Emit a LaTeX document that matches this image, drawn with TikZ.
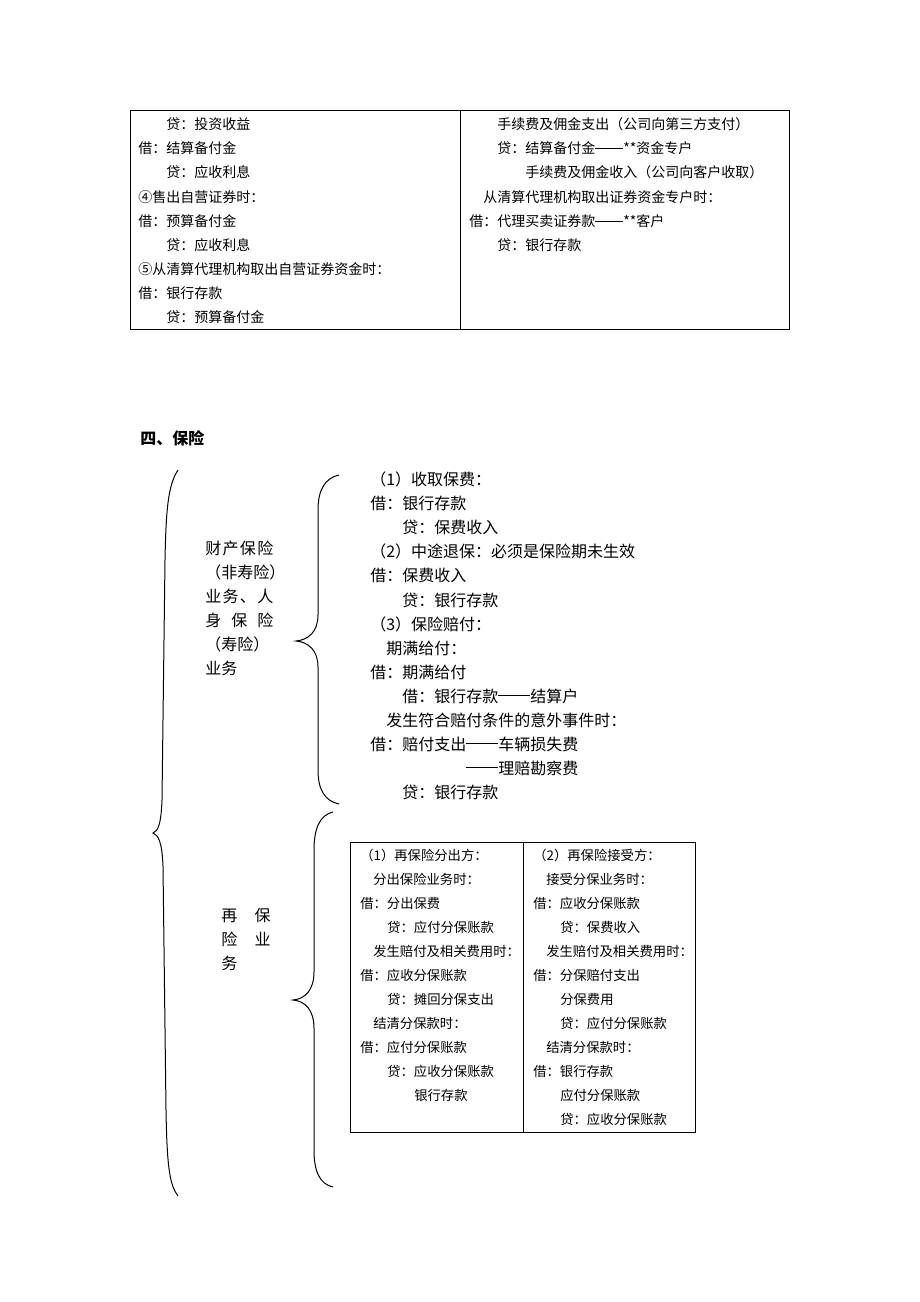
\documentclass[tikz,border=0pt]{standalone}
\usepackage{fontspec}
\setmainfont{Noto Sans CJK SC}
\newcommand{\cjkdash}{\rule[0.36em]{2em}{0.05em}}
\begin{document}
\begin{tikzpicture}[x=0.75pt,y=-0.75pt,
  toptext/.style={anchor=west,inner sep=0pt,font=\fontsize{10.5}{12}\selectfont,text height=9.2pt,text depth=1.3pt},
  instext/.style={anchor=west,inner sep=0pt,font=\fontsize{12}{14}\selectfont,text height=10.5pt,text depth=1.5pt},
  retext/.style={anchor=west,inner sep=0pt,font=\fontsize{10}{12}\selectfont,text height=8.8pt,text depth=1.2pt},
  frame/.style={line width=0.75pt},
  bracket/.style={line width=0.75pt}]

\fill[white] (0,0) rectangle (920,1302);
\useasboundingbox (0,0) rectangle (920,1302);

% top table
\draw[frame] (130,111) rectangle (789,329);
\draw[frame] (460,111) -- (460,329);

\node[toptext] (tl1) at (166,124) {贷：投资收益};
\node[toptext] (tl2) at (138,148) {借：结算备付金};
\node[toptext] (tl3) at (166,172) {贷：应收利息};
\node[toptext] (tl4) at (138,197) {④售出自营证券时：};
\node[toptext] (tl5) at (138,221) {借：预算备付金};
\node[toptext] (tl6) at (166,245) {贷：应收利息};
\node[toptext] (tl7) at (138,269) {⑤从清算代理机构取出自营证券资金时：};
\node[toptext] (tl8) at (138,293) {借：银行存款};
\node[toptext] (tl9) at (166,317) {贷：预算备付金};

\node[toptext] (tr1) at (497,124) {手续费及佣金支出（公司向第三方支付）};
\node[toptext] (tr2) at (497,148) {贷：结算备付金\cjkdash**资金专户};
\node[toptext] (tr3) at (525,172) {手续费及佣金收入（公司向客户收取）};
\node[toptext] (tr4) at (483,197) {从清算代理机构取出证券资金专户时：};
\node[toptext] (tr5) at (469,221) {借：代理买卖证券款\cjkdash**客户};
\node[toptext] (tr6) at (497,245) {贷：银行存款};

% title
\node[instext,font=\fontsize{12}{14}\selectfont\bfseries] (title) at (140,438) {四、保险};

% big brace
\draw[bracket] (178,470) .. controls (168,485) and (166,510) .. (165,560)
  -- (162,800) .. controls (161,825) and (158,831) .. (153,833)
  .. controls (158,835) and (162,841) .. (163,866)
  -- (166,1110) .. controls (167,1170) and (170,1185) .. (178,1196);

% property / life insurance
\node[instext] (lab1) at (205,548) {\makebox[51pt][s]{财\hfill 产\hfill 保\hfill 险}};
\node[instext] (lab2) at (205,572) {（非寿险）};
\node[instext] (lab3) at (205,596) {\makebox[51pt][s]{业\hfill 务\hfill 、\hfill 人}};
\node[instext] (lab4) at (205,620) {\makebox[51pt][s]{身\hfill 保\hfill 险}};
\node[instext] (lab5) at (205,644) {（寿险）};
\node[instext] (lab6) at (205,668) {业务};

\draw[bracket] (339,475) .. controls (325,478) and (318,490) .. (318,510)
  -- (318,615) .. controls (318,632) and (308,640) .. (296,641)
  .. controls (308,642) and (318,650) .. (318,667)
  -- (318,770) .. controls (318,790) and (325,801) .. (339,804);

\node[instext] (ins1) at (370,479) {（1）收取保费：};
\node[instext] (ins2) at (370,503) {借：银行存款};
\node[instext] (ins3) at (402,527) {贷：保费收入};
\node[instext] (ins4) at (370,551) {（2）中途退保：必须是保险期未生效};
\node[instext] (ins5) at (370,575) {借：保费收入};
\node[instext] (ins6) at (402,600) {贷：银行存款};
\node[instext] (ins7) at (370,624) {（3）保险赔付：};
\node[instext] (ins8) at (386,648) {期满给付：};
\node[instext] (ins9) at (370,672) {借：期满给付};
\node[instext] (ins10) at (402,696) {借：银行存款\cjkdash 结算户};
\node[instext] (ins11) at (386,720) {发生符合赔付条件的意外事件时：};
\node[instext] (ins12) at (370,744) {借：赔付支出\cjkdash 车辆损失费};
\node[instext] (ins13) at (466,768) {\cjkdash 理赔勘察费};
\node[instext] (ins14) at (402,792) {贷：银行存款};

% reinsurance
\node[instext] (re1) at (221,915) {\makebox[37pt][s]{再\hfill 保}};
\node[instext] (re2) at (221,939) {\makebox[37pt][s]{险\hfill 业}};
\node[instext] (re3) at (221,963) {务};

\draw[bracket] (333,812) .. controls (320,815) and (314,828) .. (314,850)
  -- (314,972) .. controls (314,990) and (305,999) .. (293,1000)
  .. controls (305,1001) and (314,1010) .. (314,1028)
  -- (314,1150) .. controls (314,1172) and (320,1184) .. (333,1187);

\draw[frame] (350,842) rectangle (695,1132);
\draw[frame] (523,842) -- (523,1132);

\node[retext] (rl1) at (360,855) {（1）再保险分出方：};
\node[retext] (rl2) at (373,879) {分出保险业务时：};
\node[retext] (rl3) at (360,903) {借：分出保费};
\node[retext] (rl4) at (387,927) {贷：应付分保账款};
\node[retext] (rl5) at (373,951) {发生赔付及相关费用时：};
\node[retext] (rl6) at (360,975) {借：应收分保账款};
\node[retext] (rl7) at (387,999) {贷：摊回分保支出};
\node[retext] (rl8) at (373,1023) {结清分保款时：};
\node[retext] (rl9) at (360,1047) {借：应付分保账款};
\node[retext] (rl10) at (387,1071) {贷：应收分保账款};
\node[retext] (rl11) at (414,1095) {银行存款};

\node[retext] (rr1) at (533,855) {（2）再保险接受方：};
\node[retext] (rr2) at (546,879) {接受分保业务时：};
\node[retext] (rr3) at (533,903) {借：应收分保账款};
\node[retext] (rr4) at (560,927) {贷：保费收入};
\node[retext] (rr5) at (546,951) {发生赔付及相关费用时：};
\node[retext] (rr6) at (533,975) {借：分保赔付支出};
\node[retext] (rr7) at (560,999) {分保费用};
\node[retext] (rr8) at (560,1023) {贷：应付分保账款};
\node[retext] (rr9) at (546,1047) {结清分保款时：};
\node[retext] (rr10) at (533,1071) {借：银行存款};
\node[retext] (rr11) at (560,1095) {应付分保账款};
\node[retext] (rr12) at (560,1119) {贷：应收分保账款};

\end{tikzpicture}
\end{document}
